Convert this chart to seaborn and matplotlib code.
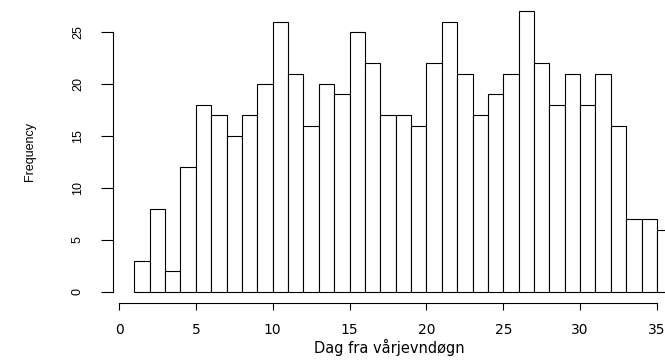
import matplotlib

matplotlib.use("Agg")
import matplotlib.pyplot as plt  # noqa: E402
import numpy as np  # noqa: E402
import pandas as pd  # noqa: E402
import seaborn as sns  # noqa: E402

# bin left edges (days) and counts per bin, width 1 day
bin_starts = list(range(1, 36))
counts = [3, 8, 2, 12, 18, 17, 15, 17, 20, 26, 21, 16, 20, 19, 25, 22, 17, 17,
          16, 22, 26, 21, 17, 19, 21, 27, 22, 18, 21, 18, 21, 16, 7, 7, 6]
x_ticks = [0, 5, 10, 15, 20, 25, 30, 35]
y_ticks = [0, 5, 10, 15, 20, 25]

df = pd.DataFrame({"day": np.array(bin_starts) + 0.5, "n": counts})

sns.set_style("white")
plt.rcParams["font.family"] = ["Liberation Sans", "DejaVu Sans"]

fig = plt.figure(figsize=(6.65, 3.63), dpi=100)
W, H = 665, 363
px_per_x = 15.37
left_px, x0_px = 113, 119
ax = fig.add_axes([left_px / W, (H - 303.2) / H, (W - left_px) / W, 303.2 / H])

sns.histplot(data=df, x="day", weights="n", binwidth=1, binrange=(1, 36),
             color="white", edgecolor="black", linewidth=0.8, alpha=1, ax=ax)

ax.set_xlim(-(x0_px - left_px) / px_per_x, (W - x0_px) / px_per_x)
ax.set_ylim(-1.08, 28.08)

for s in ["top", "right"]:
    ax.spines[s].set_visible(False)
ax.spines["left"].set_bounds(0, 25)
ax.spines["bottom"].set_bounds(0, 35)
for s in ["left", "bottom"]:
    ax.spines[s].set_linewidth(0.8)
    ax.spines[s].set_color("black")

wide = ["DejaVu Sans"]
ax.set_xticks(x_ticks)
ax.set_xticklabels([str(v) for v in x_ticks], family=wide)
ax.set_yticks(y_ticks)
ax.set_yticklabels([str(v) for v in y_ticks], rotation=90, va="center")
ax.tick_params(axis="x", bottom=True, length=5, width=0.8, pad=9, labelsize=10,
               color="black", labelcolor="black")
ax.tick_params(axis="y", left=True, length=9, width=0.8, pad=12, labelsize=9,
               color="black", labelcolor="black")

ax.set_xlabel("Dag fra vårjevndøgn", fontsize=10.5, labelpad=2, color="black",
              family=wide)
ax.set_ylabel("Frequency", fontsize=9, labelpad=26, color="black")

fig.savefig("out.png", dpi=100)
plt.close(fig)
